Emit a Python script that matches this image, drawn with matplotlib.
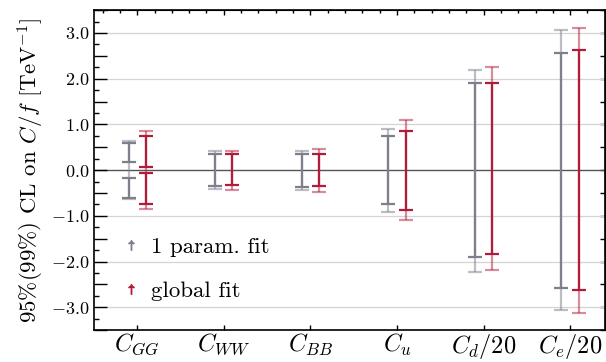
import matplotlib
matplotlib.use('Agg')
import matplotlib.pyplot as plt
from matplotlib.ticker import MultipleLocator, FuncFormatter, NullFormatter
from matplotlib.lines import Line2D

plt.rcParams['font.family'] = 'serif'
plt.rcParams['font.serif'] = ['cmr10']
plt.rcParams['mathtext.fontset'] = 'cm'
plt.rcParams['axes.formatter.use_mathtext'] = True

# data (C_d and C_e already divided by 20)
categories = [r'$C_{GG}$', r'$C_{WW}$', r'$C_{BB}$', r'$C_u$', r'$C_d/20$', r'$C_e/20$']
one_param_99 = [(-0.64, 0.64), (-0.41, 0.41), (-0.43, 0.41), (-0.91, 0.91), (-2.22, 2.20), (-3.07, 3.06)]
one_param_95 = [[(-0.60, -0.18), (0.18, 0.59)], [(-0.35, 0.36)], [(-0.36, 0.36)],
                [(-0.74, 0.74)], [(-1.90, 1.90)], [(-2.57, 2.57)]]
global_99 = [(-0.85, 0.85), (-0.43, 0.41), (-0.47, 0.46), (-1.10, 1.09), (-2.19, 2.25), (-3.12, 3.12)]
global_95 = [[(-0.75, -0.07), (0.07, 0.74)], [(-0.33, 0.35)], [(-0.34, 0.36)],
             [(-0.87, 0.86)], [(-1.83, 1.90)], [(-2.62, 2.62)]]

gray = '#7d7f8c'
red = '#b01c3a'


def draw_bar(ax, x, lo, hi, color, alpha):
    mid = 0.5 * (lo + hi)
    ax.errorbar([x], [mid], yerr=[[mid - lo], [hi - mid]], fmt='none', ecolor=color,
                elinewidth=1.6, capsize=5, capthick=1.6, alpha=alpha, zorder=3)


fig = plt.figure(figsize=(6.06, 3.62), dpi=100)
ax = fig.add_axes([0.155, 0.088, 0.843, 0.884])

for v in range(-3, 4):
    if v == 0:
        ax.axhline(v, color='#555555', lw=1.0, zorder=1)
    else:
        ax.axhline(v, color='#d4d4d4', lw=0.9, zorder=1)

for i in range(len(categories)):
    xg, xr = i - 0.1, i + 0.1
    draw_bar(ax, xg, *one_param_99[i], gray, 0.5)
    for lo, hi in one_param_95[i]:
        draw_bar(ax, xg, lo, hi, gray, 1.0)
    draw_bar(ax, xr, *global_99[i], red, 0.5)
    for lo, hi in global_95[i]:
        draw_bar(ax, xr, lo, hi, red, 1.0)

ax.set_xlim(-0.5, 5.4)
ax.set_ylim(-3.5, 3.5)
ax.set_xticks(range(len(categories)))
ax.set_xticklabels(categories, fontsize=17.5)
ax.yaxis.set_major_locator(MultipleLocator(0.5))
ax.yaxis.set_minor_locator(MultipleLocator(0.25))
ax.yaxis.set_major_formatter(FuncFormatter(lambda v, p: f'${v:.1f}$' if abs(v - round(v)) < 1e-6 else ''))
ax.tick_params(axis='y', which='major', direction='in', length=9, width=1.0, labelsize=13)
ax.tick_params(axis='y', which='minor', direction='in', length=3.5, width=1.0)
ax.tick_params(axis='x', which='major', direction='in', length=3.5, width=1.0, pad=1)
for s in ax.spines.values():
    s.set_linewidth(1.2)

top = ax.secondary_xaxis('top')
top.set_xticks(range(len(categories)))
top.xaxis.set_minor_locator(MultipleLocator(0.2))
top.xaxis.set_major_formatter(NullFormatter())
top.tick_params(which='major', direction='in', length=3.5, width=1.0)
top.tick_params(which='minor', direction='in', length=2, width=1.0)

right = ax.secondary_yaxis('right')
right.yaxis.set_major_locator(MultipleLocator(0.5))
right.yaxis.set_major_formatter(NullFormatter())
right.tick_params(which='major', direction='in', length=3.5, width=1.0)

ax.set_ylabel(r'95%(99%) CL on $C/f$ [TeV$^{-1}$]', fontsize=16.5, labelpad=3)

handles = [Line2D([], [], ls='none', marker=r'$\uparrow$', markersize=7, color=gray),
           Line2D([], [], ls='none', marker=r'$\uparrow$', markersize=7, color=red)]
ax.legend(handles, ['1 param. fit', 'global fit'], loc='center left', bbox_to_anchor=(0.027, 0.19),
          frameon=False, fontsize=16.5, labelspacing=1.05, handlelength=1.0, handletextpad=0.4,
          borderpad=0)

fig.savefig('out.png', dpi=100)
